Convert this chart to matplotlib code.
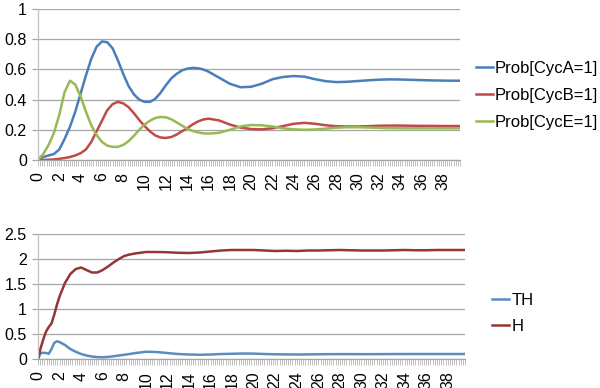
import numpy as np
import matplotlib.pyplot as plt
from matplotlib.ticker import MultipleLocator

plt.rcParams['font.family'] = ['Liberation Sans', 'DejaVu Sans']

# ---- top panel: probabilities ----
t_top = [0, 0.5, 1, 1.5, 2, 2.5, 3, 3.5, 4, 4.5, 5, 5.5, 6, 6.5, 7, 7.5, 8, 8.5,
         9, 9.5, 10, 10.5, 11, 11.5, 12, 12.5, 13, 13.5, 14, 14.5, 15, 15.5, 16,
         17, 18, 19, 20, 21, 22, 23, 24, 25, 26, 27, 28, 29, 30, 31, 32, 33, 34,
         35, 36, 37, 38, 39, 39.6]
cyca = [0, 0.02, 0.03, 0.04, 0.07, 0.14, 0.22, 0.32, 0.44, 0.56, 0.67, 0.75, 0.785,
        0.78, 0.74, 0.66, 0.57, 0.49, 0.435, 0.40, 0.385, 0.385, 0.405, 0.445, 0.495,
        0.54, 0.57, 0.593, 0.605, 0.61, 0.608, 0.60, 0.585, 0.545, 0.505, 0.482,
        0.485, 0.505, 0.535, 0.55, 0.556, 0.552, 0.535, 0.522, 0.516, 0.518, 0.523,
        0.528, 0.532, 0.534, 0.533, 0.531, 0.529, 0.527, 0.526, 0.525, 0.525]
cycb = [0, 0, 0.002, 0.004, 0.008, 0.013, 0.02, 0.03, 0.045, 0.07, 0.12, 0.19,
        0.26, 0.33, 0.37, 0.385, 0.375, 0.35, 0.31, 0.265, 0.225, 0.19, 0.163,
        0.149, 0.146, 0.152, 0.168, 0.19, 0.21, 0.235, 0.255, 0.268, 0.274, 0.262,
        0.235, 0.215, 0.205, 0.203, 0.21, 0.225, 0.24, 0.246, 0.24, 0.23, 0.224,
        0.222, 0.222, 0.224, 0.227, 0.228, 0.228, 0.227, 0.226, 0.226, 0.225,
        0.225, 0.225]
cyce = [0, 0.04, 0.1, 0.18, 0.3, 0.45, 0.525, 0.5, 0.42, 0.32, 0.23, 0.165, 0.12,
        0.095, 0.087, 0.087, 0.1, 0.125, 0.16, 0.2, 0.235, 0.26, 0.278, 0.285,
        0.283, 0.27, 0.25, 0.228, 0.208, 0.193, 0.183, 0.177, 0.175, 0.18, 0.2,
        0.222, 0.232, 0.23, 0.222, 0.21, 0.203, 0.2, 0.202, 0.208, 0.214, 0.217,
        0.217, 0.215, 0.213, 0.211, 0.21, 0.21, 0.21, 0.21, 0.21, 0.21, 0.21]

# ---- bottom panel ----
t_bot = [0, 0.25, 0.5, 0.75, 1, 1.25, 1.5, 1.75, 2, 2.5, 3, 3.5, 4, 4.5, 5, 5.5,
         6, 6.5, 7, 7.5, 8, 8.5, 9, 10, 11, 12, 13, 14, 15, 16, 17, 18, 19, 20,
         21, 22, 23, 24, 25, 26, 27, 28, 29, 30, 31, 32, 33, 34, 35, 36, 37, 38,
         39, 39.6]
th = [0, 0.12, 0.125, 0.12, 0.105, 0.2, 0.32, 0.355, 0.34, 0.28, 0.2, 0.145, 0.1,
      0.07, 0.05, 0.038, 0.035, 0.042, 0.055, 0.07, 0.085, 0.1, 0.118, 0.145,
      0.14, 0.12, 0.1, 0.09, 0.085, 0.09, 0.1, 0.105, 0.11, 0.108, 0.1, 0.095,
      0.092, 0.09, 0.092, 0.095, 0.097, 0.098, 0.098, 0.097, 0.097, 0.098, 0.099,
      0.1, 0.1, 0.1, 0.1, 0.1, 0.1, 0.1]
h = [0, 0.22, 0.4, 0.55, 0.64, 0.71, 0.88, 1.08, 1.25, 1.52, 1.7, 1.8, 1.83,
     1.78, 1.73, 1.73, 1.78, 1.85, 1.93, 2.0, 2.06, 2.09, 2.11, 2.14, 2.14,
     2.135, 2.125, 2.12, 2.13, 2.15, 2.17, 2.18, 2.18, 2.18, 2.17, 2.16, 2.165,
     2.16, 2.17, 2.17, 2.175, 2.18, 2.175, 2.17, 2.17, 2.17, 2.175, 2.18, 2.175,
     2.175, 2.18, 2.18, 2.18, 2.18]

GRID = '#a6a6a6'
xticks = np.arange(0, 40, 2)

fig = plt.figure(figsize=(6, 3.88), dpi=100)
ax1 = fig.add_axes([0.0633, 0.5876, 0.7034, 0.3892])
ax2 = fig.add_axes([0.0633, 0.0747, 0.7117, 0.3222])


def style(ax, ymax, ystep):
    ax.set_xlim(0, 39.6)
    ax.set_ylim(0, ymax)
    ax.set_yticks(np.arange(0, ymax + 1e-9, ystep))
    ax.yaxis.grid(True, color=GRID, linewidth=0.9)
    ax.set_axisbelow(True)
    for s in ['top', 'right']:
        ax.spines[s].set_visible(False)
    ax.spines['left'].set_color('#c0c0c0')
    ax.spines['bottom'].set_color(GRID)
    ax.spines['left'].set_linewidth(0.9)
    ax.spines['bottom'].set_linewidth(0.9)
    ax.set_xticks(xticks)
    ax.set_xticklabels([str(v) for v in xticks], rotation=90)
    ax.xaxis.set_minor_locator(MultipleLocator(0.2))
    ax.tick_params(axis='x', which='both', length=4, width=0.5, color=GRID,
                   labelsize=11.5, pad=5)
    ax.tick_params(axis='y', length=4, width=0.9, color=GRID, labelsize=11.5, pad=4)


ax1.plot(t_top, cyca, color='#4a7ebb', lw=1.8, label='Prob[CycA=1]')
ax1.plot(t_top, cycb, color='#be4b48', lw=1.8, label='Prob[CycB=1]')
ax1.plot(t_top, cyce, color='#98b954', lw=1.8, label='Prob[CycE=1]')
style(ax1, 1.0, 0.2)
ax1.set_yticklabels(['0', '0.2', '0.4', '0.6', '0.8', '1'])
ax1.legend(loc='center left', bbox_to_anchor=(1.01, 0.43), frameon=False,
           fontsize=12, handlelength=1.0, handletextpad=0.15, labelspacing=0.72,
           borderaxespad=0.3)

ax2.plot(t_bot, th, color='#5b8cc0', lw=1.8, label='TH')
ax2.plot(t_bot, h, color='#943634', lw=1.8, label='H')
style(ax2, 2.5, 0.5)
ax2.set_yticklabels(['0', '0.5', '1', '1.5', '2', '2.5'])
ax2.legend(loc='center left', bbox_to_anchor=(1.037, 0.365), frameon=False,
           fontsize=12, handlelength=1.0, handletextpad=0.15, labelspacing=0.7,
           borderaxespad=0.3)

fig.savefig('out.png', dpi=100)
